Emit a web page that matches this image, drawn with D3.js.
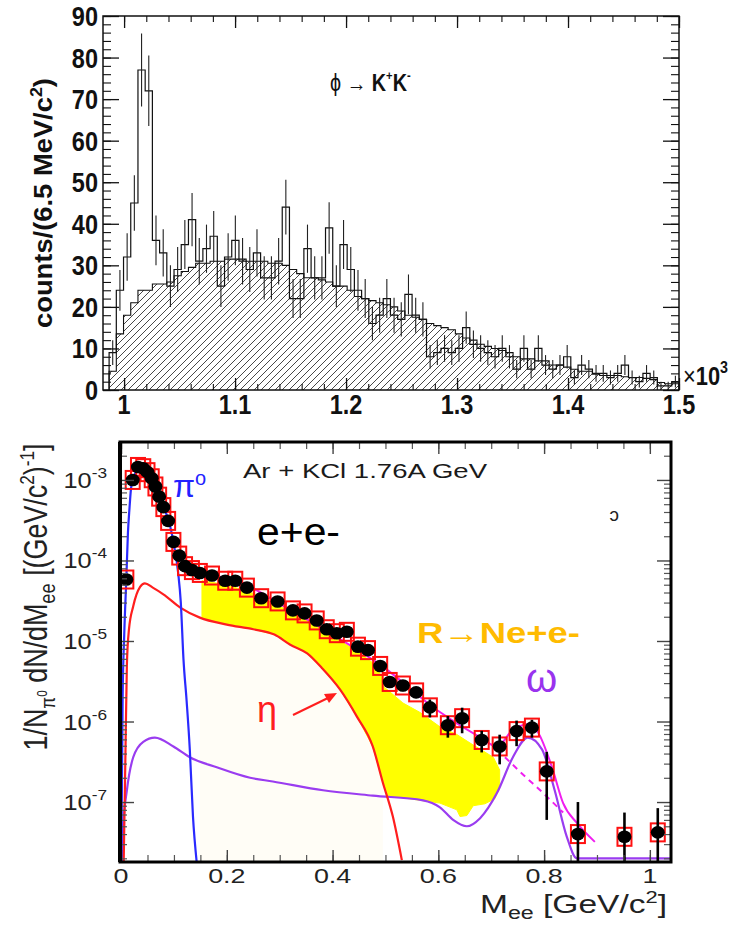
<!DOCTYPE html>
<html><head><meta charset="utf-8">
<script src="https://cdn.jsdelivr.net/npm/d3@7/dist/d3.min.js"></script>
<style>
body{margin:0;background:#fff}
svg{display:block}
text{font-family:"Liberation Sans",Arial,Helvetica,sans-serif}
</style>
</head><body>
<svg id="c" width="729" height="926"></svg>
<script>
// ================= TOP PANEL DATA (phi -> K+K-) =================
const phiBinLow = 0.9865, phiBinWidth = 0.0065;
const phiCounts = [9,24,32,45,77,72,36,33,25,29,35,41,31,34,37,25,32,36,31,29,
  33,27,27,31,44,22,22,34,27,27,39,25,35,29,24,22,16,18,22,18,
  17,23,18,17,8,9,10,9,10,15,11,10,9,8,10,8,5,10,5,10,
  6,5,6,8,3,6,5,4,4,3,4,6,3,2,4,3,1,1,2];
const phiErrors = [3,4.9,5.7,6.7,8.8,8.5,6,5.7,5,5.4,5.9,6.4,5.6,5.8,6.1,5,5.7,6,5.6,5.4,
  5.7,5.2,5.2,5.6,6.6,4.7,4.7,5.8,5.2,5.2,6.2,5,5.9,5.4,4.9,4.7,4,4.2,4.7,4.2,
  4.1,4.8,4.2,4.1,2.8,3,3.2,3,3.2,3.9,3.3,3.2,3,2.8,3.2,2.8,2.2,3.2,2.2,3.2,
  2.4,2.2,2.4,2.8,1.7,2.4,2.2,2,2,1.7,2,2.4,1.7,1.4,2,1.7,1,1,1.4];
const phiBackground = [4.5,13.5,18,21,24,24,25.5,25.5,26,27.5,28.5,29.5,30.5,30.5,31,31,31.5,31.5,31.5,31,
  31,31,30.5,30.5,30,29,28,27,27,26.5,26,25,25,24,22.5,22,21.5,21,20.5,20,
  19,18,17.5,17,16,15.5,15,14.5,13.5,12.5,12,11,10.5,10,9.5,9,8,7.5,7.5,7,
  7,6,6,5.5,5,4.5,4.5,3.8,3.5,3.5,3.5,3.2,3,3,2.8,2.5,1.8,1.5,1.5];
const topXTicks = [1, 1.1, 1.2, 1.3, 1.4, 1.5];
const topXLabels = ["1", "1.1", "1.2", "1.3", "1.4", "1.5"];
const topYTicks = [0, 10, 20, 30, 40, 50, 60, 70, 80, 90];

// ================= BOTTOM PANEL DATA (Ar+KCl e+e-) =================
const meeX = [0.010,0.022,0.032,0.042,0.050,0.058,0.065,0.072,0.080,0.089,0.099,0.110,0.121,0.134,0.149,0.172,0.197,0.216,0.238,0.265,
  0.296,0.325,0.347,0.370,0.389,0.408,0.427,0.448,0.467,0.490,0.508,0.533,0.558,0.584,0.618,0.645,0.682,0.716,0.748,0.777,
  0.805,0.864,0.952,1.015];
const meeY = [5.8e-5,1.0e-3,1.45e-3,1.4e-3,1.25e-3,1.05e-3,8.3e-4,6.2e-4,4.6e-4,3.1e-4,1.7e-4,1.15e-4,8.5e-5,7.6e-5,7.0e-5,6.5e-5,5.6e-5,5.6e-5,4.6e-5,3.4e-5,
  3.1e-5,2.4e-5,2.2e-5,1.8e-5,1.4e-5,1.25e-5,1.3e-5,8.5e-6,7.7e-6,4.9e-6,3.1e-6,2.8e-6,2.3e-6,1.5e-6,9e-7,1.1e-6,5.9e-7,4.9e-7,7.6e-7,8.4e-7,
  2.4e-7,4.0e-8,3.7e-8,4.2e-8];
const meeErrRel = [0.04,0.02,0.02,0.02,0.02,0.02,0.02,0.03,0.03,0.03,0.04,0.04,0.05,0.05,0.05,0.05,0.06,0.06,0.06,0.07,
  0.07,0.08,0.08,0.09,0.1,0.1,0.1,0.12,0.12,0.14,0.15,0.15,0.15,0.25,0.3,0.35,0.3,0.4,0.35,0.25,
  0.75,1.5,1.0,1.0];
const piX = [0.0005,0.003,0.006,0.010,0.013,0.016,0.019,0.025,0.032,0.04,0.05,0.06,0.07,0.08,0.089,0.099,0.108,0.113,0.118,0.124,0.130,0.136,0.143];
const piY = [1.8e-8,2e-6,1.2e-5,6e-5,2.2e-4,4.5e-4,8e-4,1.15e-3,1.3e-3,1.25e-3,1.05e-3,8.3e-4,6.1e-4,4.5e-4,3.3e-4,1.7e-4,7e-5,3e-5,6e-6,1.8e-6,4.5e-7,6.6e-8,1.8e-8];
const etaX = [0.005,0.008,0.011,0.015,0.023,0.036,0.045,0.06,0.08,0.112,0.149,0.2,0.25,0.29,0.32,0.352,0.38,0.414,0.446,0.476,0.495,0.514,0.531];
const etaY = [1.8e-8,3e-7,5e-6,1.4e-5,2.7e-5,4.7e-5,5.2e-5,4.6e-5,3.8e-5,2.6e-5,1.95e-5,1.6e-5,1.4e-5,1.2e-5,9e-6,7e-6,4.6e-6,2.5e-6,1.15e-6,4.9e-7,1.75e-7,6.6e-8,1.9e-8];
const omegaX = [0.001,0.004,0.011,0.023,0.042,0.064,0.099,0.13,0.181,0.244,0.287,0.382,0.476,0.571,0.603,0.628,0.654,0.679,0.711,0.741,0.769,0.796,0.82,0.843,0.862,0.95,1.04];
const omegaY = [1.8e-8,5e-8,1.4e-7,3.6e-7,5.6e-7,6.3e-7,4.9e-7,3.6e-7,2.7e-7,2e-7,1.8e-7,1.4e-7,1.2e-7,1.05e-7,8.6e-8,6e-8,5e-8,6.3e-8,1.3e-7,3.6e-7,6.3e-7,4.5e-7,1.4e-7,3.7e-8,2e-8,2e-8,2e-8];
const totalX = [0.16,0.225,0.3,0.4,0.495,0.6,0.68,0.711,0.741,0.769,0.788,0.815,0.836,0.862,0.896];
const totalY = [6.8e-5,5.4e-5,2.9e-5,1.2e-5,4.8e-6,1.35e-6,6.3e-7,4.9e-7,7.9e-7,9.2e-7,7.4e-7,2.7e-7,9.7e-8,5.5e-8,3.2e-8];
const contX = [0.711,0.76,0.8,0.836];
const contY = [4.5e-7,2.2e-7,1.26e-7,7.4e-8];
const yellowX = [0.153,0.2,0.25,0.3,0.35,0.4,0.45,0.477,0.496,0.497,0.533,0.565,0.603,0.635,0.666,0.68,0.704,0.716,0.716,0.707,0.688,0.666,0.654,0.641,0.635,0.603,0.503,
  0.495,0.476,0.446,0.414,0.38,0.352,0.32,0.29,0.25,0.2,0.153];
const yellowY = [5.6e-5,5.0e-5,3.9e-5,2.7e-5,1.85e-5,1.15e-5,7.2e-6,5.3e-6,3.4e-6,2.7e-6,1.7e-6,1.3e-6,8.6e-7,6.9e-7,5.1e-7,4.5e-7,3.6e-7,2.5e-7,1.5e-7,1.1e-7,9.5e-8,9e-8,6.8e-8,6.6e-8,8e-8,9.7e-8,1.2e-7,
  1.75e-7,4.9e-7,1.15e-6,2.5e-6,4.6e-6,7e-6,9e-6,1.2e-5,1.4e-5,1.6e-5,1.9e-5];
const bottomXTicks = [0, 0.2, 0.4, 0.6, 0.8, 1];
const bottomXLabels = ["0", "0.2", "0.4", "0.6", "0.8", "1"];
const bottomYTicks = [1e-7, 1e-6, 1e-5, 1e-4, 1e-3];
const bottomYExp = ["-7", "-6", "-5", "-4", "-3"];

// ================= DRAWING =================
const svg = d3.select("#c");
const defs = svg.append("defs");
const pat = defs.append("pattern").attr("id", "hatch").attr("patternUnits", "userSpaceOnUse")
  .attr("width", 7).attr("height", 7);
pat.append("path").attr("d", "M-1,1 l2,-2 M0,7 l7,-7 M6,8 l2,-2")
  .attr("stroke", "#333").attr("stroke-width", 0.9);

// ---------- top panel ----------
const TL = 103, TR = 679, TT = 16, TB = 390;
const xT = d3.scaleLinear().domain([0.981, 1.5]).range([TL, TR]);
const yT = d3.scaleLinear().domain([0, 90]).range([TB, TT]);
const gT = svg.append("g");

function steps(vals, closeEnds) {
  const p = [];
  if (closeEnds) p.push([phiBinLow, 0]);
  vals.forEach((v, i) => {
    const a = phiBinLow + i * phiBinWidth;
    p.push([a, v], [a + phiBinWidth, v]);
  });
  if (closeEnds) p.push([phiBinLow + vals.length * phiBinWidth, 0]);
  return p;
}
gT.append("path").datum(steps(phiBackground, false))
  .attr("d", d3.area().x(d => xT(d[0])).y0(yT(0)).y1(d => yT(d[1])))
  .attr("fill", "url(#hatch)");
gT.append("path").datum(steps(phiBackground, true))
  .attr("d", d3.line().x(d => xT(d[0])).y(d => yT(d[1])))
  .attr("fill", "none").attr("stroke", "#111").attr("stroke-width", 1.1);
gT.append("path").datum(steps(phiCounts, true))
  .attr("d", d3.line().x(d => xT(d[0])).y(d => yT(d[1])))
  .attr("fill", "none").attr("stroke", "#111").attr("stroke-width", 1.2);
gT.selectAll("line.err").data(phiCounts).join("line").attr("class", "err")
  .attr("x1", (d, i) => xT(phiBinLow + (i + 0.5) * phiBinWidth))
  .attr("x2", (d, i) => xT(phiBinLow + (i + 0.5) * phiBinWidth))
  .attr("y1", (d, i) => yT(Math.max(0, d - phiErrors[i])))
  .attr("y2", (d, i) => yT(d + phiErrors[i]))
  .attr("stroke", "#222").attr("stroke-width", 1.1);

function styleAxis(g, color, w) {
  g.select(".domain").remove();
  g.selectAll(".tick line").attr("stroke", color).attr("stroke-width", w);
  g.selectAll(".tick text").remove();
}
const topMinorX = d3.range(50).map(i => 0.98 + i * 0.02).filter(v => v >= 0.981 && v <= 1.5001);
const topMinorY = d3.range(46).map(i => i * 2);
[[d3.axisLeft(yT), TL, 0, topYTicks, topMinorY, 16, 8],
 [d3.axisRight(yT), TR, 0, topYTicks, topMinorY, 16, 8],
 [d3.axisBottom(xT), 0, TB, topXTicks, topMinorX, 12, 6],
 [d3.axisTop(xT), 0, TT, topXTicks, topMinorX, 12, 6]].forEach(([ax, tx, ty, maj, mn, lM, lm]) => {
  gT.append("g").attr("transform", `translate(${tx},${ty})`)
    .call(ax.tickValues(mn).tickSizeInner(-lm).tickSizeOuter(0)).call(g => styleAxis(g, "#111", 1.1));
  gT.append("g").attr("transform", `translate(${tx},${ty})`)
    .call(ax.tickValues(maj).tickSizeInner(-lM).tickSizeOuter(0)).call(g => styleAxis(g, "#111", 1.3));
});
gT.append("rect").attr("x", TL).attr("y", TT).attr("width", TR - TL).attr("height", TB - TT)
  .attr("fill", "none").attr("stroke", "#111").attr("stroke-width", 1.5);

topYTicks.forEach(v => {
  gT.append("text").attr("transform", `translate(98,${yT(v) + 10}) scale(0.84,1)`)
    .attr("text-anchor", "end").attr("font-weight", "bold").attr("font-size", 28).attr("fill", "#111").text(v);
});
topXTicks.forEach((v, i) => {
  gT.append("text").attr("transform", `translate(${xT(v)},414) scale(0.84,1)`)
    .attr("text-anchor", "middle").attr("font-weight", "bold").attr("font-size", 28).attr("fill", "#111").text(topXLabels[i]);
});
const x103 = gT.append("text").attr("transform", "translate(683,385) scale(0.84,1)")
  .attr("font-weight", "bold").attr("font-size", 26).attr("fill", "#111");
x103.append("tspan").attr("font-weight", "normal").text("×");
x103.append("tspan").text("10");
x103.append("tspan").attr("font-size", 17).attr("dy", -12).text("3");

const ty = gT.append("text").attr("transform", "translate(52,203) rotate(-90)")
  .attr("text-anchor", "middle").attr("font-weight", "bold").attr("font-size", 26).attr("fill", "#111")
  .attr("textLength", 250).attr("lengthAdjust", "spacingAndGlyphs");
ty.append("tspan").text("counts/(6.5 MeV/c");
ty.append("tspan").attr("font-size", 17).attr("dy", -10).text("2");
ty.append("tspan").attr("dy", 10).text(")");

const tt = gT.append("text").attr("transform", "translate(330,91) scale(0.86,1)")
  .attr("font-size", 23).attr("fill", "#111");
tt.append("tspan").text("ϕ → ");
tt.append("tspan").attr("font-weight", "bold").text("K");
tt.append("tspan").attr("font-weight", "bold").attr("font-size", 13).attr("dy", -11).text("+");
tt.append("tspan").attr("font-weight", "bold").attr("dy", 11).text("K");
tt.append("tspan").attr("font-weight", "bold").attr("font-size", 13).attr("dy", -11).text("-");

// ---------- bottom panel ----------
const BL = 120, BR = 671, BT = 442, BB = 862;
const xB = d3.scaleLinear().domain([-0.002, 1.04]).range([BL, BR]);
const yB = d3.scaleLog().domain([1.8e-8, 2.96e-3]).range([BB, BT]);
const gB = svg.append("g");
defs.append("clipPath").attr("id", "clipB").append("rect")
  .attr("x", BL).attr("y", BT).attr("width", BR - BL).attr("height", BB - BT);
const plot = gB.append("g").attr("clip-path", "url(#clipB)");
const lineB = d3.line().x(d => xB(d[0])).y(d => yB(d[1])).curve(d3.curveMonotoneX);
const zip = (a, b) => a.map((v, i) => [v, b[i]]);

const etaSeg = zip(etaX, etaY).filter(d => d[0] >= 0.149 && d[0] <= 0.5);
plot.append("path").datum(etaSeg)
  .attr("d", d3.area().x(d => xB(d[0])).y0(BB).y1(d => yB(d[1])).curve(d3.curveMonotoneX))
  .attr("fill", "#fffdf6");
plot.append("path").datum(zip(yellowX, yellowY))
  .attr("d", d3.line().x(d => xB(d[0])).y(d => yB(d[1])).curve(d3.curveLinearClosed))
  .attr("fill", "#ffff00").attr("stroke", "#ffff00").attr("stroke-width", 1);

plot.append("path").datum(zip(omegaX, omegaY)).attr("d", lineB)
  .attr("fill", "none").attr("stroke", "#9a3cf0").attr("stroke-width", 2.2);
plot.append("path").datum(zip(etaX, etaY)).attr("d", lineB)
  .attr("fill", "none").attr("stroke", "#ff1e1e").attr("stroke-width", 2.2);
plot.append("path").datum(zip(piX, piY)).attr("d", lineB)
  .attr("fill", "none").attr("stroke", "#2a2aff").attr("stroke-width", 2.2);
plot.append("path").datum(zip(totalX, totalY)).attr("d", lineB)
  .attr("fill", "none").attr("stroke", "#f01ef0").attr("stroke-width", 2);
plot.append("path").datum(zip(contX, contY)).attr("d", lineB)
  .attr("fill", "none").attr("stroke", "#f01ef0").attr("stroke-width", 2).attr("stroke-dasharray", "6,5");

const pts = meeX.map((x, i) => ({x, y: meeY[i], r: meeErrRel[i]}));
plot.selectAll("rect.sys").data(pts).join("rect").attr("class", "sys")
  .attr("x", d => xB(d.x) - 7).attr("y", d => yB(d.y) - 9).attr("width", 14).attr("height", 18)
  .attr("fill", "none").attr("stroke", "#ff1010").attr("stroke-width", 2);
plot.selectAll("line.stat").data(pts).join("line").attr("class", "stat")
  .attr("x1", d => xB(d.x)).attr("x2", d => xB(d.x))
  .attr("y1", d => yB(d.y * (1 + d.r)))
  .attr("y2", d => d.r >= 1 ? BB + 5 : yB(d.y * (1 - d.r)))
  .attr("stroke", "#000").attr("stroke-width", 2.6);
plot.selectAll("ellipse.pt").data(pts).join("ellipse").attr("class", "pt")
  .attr("cx", d => xB(d.x)).attr("cy", d => yB(d.y)).attr("rx", 7).attr("ry", 6.3)
  .attr("fill", "#000");

const minorLogTicks = yB.ticks().filter(v => bottomYTicks.indexOf(v) < 0);
const bMinorX = d3.range(21).map(i => i * 0.05);
[[d3.axisLeft(yB), BL, 0, bottomYTicks, minorLogTicks, 14, 7],
 [d3.axisRight(yB), BR, 0, bottomYTicks, minorLogTicks, 14, 7],
 [d3.axisBottom(xB), 0, BB, bottomXTicks, bMinorX, 12, 7],
 [d3.axisTop(xB), 0, BT, bottomXTicks, bMinorX, 12, 7]].forEach(([ax, tx, ty2, maj, mn, lM, lm]) => {
  gB.append("g").attr("transform", `translate(${tx},${ty2})`)
    .call(ax.tickValues(mn).tickSizeInner(-lm).tickSizeOuter(0)).call(g => styleAxis(g, "#555", 1.2));
  gB.append("g").attr("transform", `translate(${tx},${ty2})`)
    .call(ax.tickValues(maj).tickSizeInner(-lM).tickSizeOuter(0)).call(g => styleAxis(g, "#444", 1.4));
});
gB.append("rect").attr("x", BL).attr("y", BT).attr("width", BR - BL).attr("height", BB - BT)
  .attr("fill", "none").attr("stroke", "#000").attr("stroke-width", 3);
gB.append("line").attr("x1", BL).attr("x2", BL).attr("y1", BT).attr("y2", BB)
  .attr("stroke", "#000").attr("stroke-width", 4);

bottomXTicks.forEach((v, i) => {
  gB.append("text").attr("transform", `translate(${xB(v)},883) scale(1.28,1)`)
    .attr("text-anchor", "middle").attr("font-size", 21).attr("fill", "#222").text(bottomXLabels[i]);
});
bottomYTicks.forEach((v, i) => {
  const t = gB.append("text").attr("transform", `translate(107,${yB(v) + 8}) scale(1.15,1)`)
    .attr("text-anchor", "end").attr("font-size", 22).attr("fill", "#222");
  t.append("tspan").text("10");
  t.append("tspan").attr("font-size", 15).attr("dy", -10).text(bottomYExp[i]);
});

const xt = gB.append("text").attr("x", 480).attr("y", 913).attr("font-size", 26).attr("fill", "#222")
  .attr("textLength", 187).attr("lengthAdjust", "spacingAndGlyphs");
xt.append("tspan").text("M");
xt.append("tspan").attr("font-size", 18).attr("dy", 6).text("ee");
xt.append("tspan").attr("dy", -6).text(" [GeV/c");
xt.append("tspan").attr("font-size", 17).attr("dy", -10).text("2");
xt.append("tspan").attr("dy", 10).text("]");

const yt = gB.append("text").attr("transform", "translate(47,597) rotate(-90) scale(1,1.3)")
  .attr("text-anchor", "middle").attr("font-size", 25).attr("fill", "#222")
  .attr("textLength", 307).attr("lengthAdjust", "spacingAndGlyphs");
yt.append("tspan").text("1/N");
yt.append("tspan").attr("font-size", 16).attr("dy", 6).text("π");
yt.append("tspan").attr("font-size", 11).attr("dy", -6).text("0");
yt.append("tspan").attr("dy", 0).text(" dN/dM");
yt.append("tspan").attr("font-size", 17).attr("dy", 6).text("ee");
yt.append("tspan").attr("dy", -6).text("  [(GeV/c");
yt.append("tspan").attr("font-size", 16).attr("dy", -10).text("2");
yt.append("tspan").attr("dy", 10).text(")");
yt.append("tspan").attr("font-size", 16).attr("dy", -10).text("-1");
yt.append("tspan").attr("dy", 10).text("]");

gB.append("text").attr("x", 243).attr("y", 478).attr("font-size", 20).attr("fill", "#1a1a1a")
  .attr("textLength", 244).attr("lengthAdjust", "spacingAndGlyphs").text("Ar + KCl  1.76A GeV");
gB.append("text").attr("x", 257).attr("y", 545).attr("font-size", 38).attr("fill", "#000")
  .attr("textLength", 83).attr("lengthAdjust", "spacingAndGlyphs").text("e+e-");
gB.append("text").attr("x", 417).attr("y", 643).attr("font-size", 30).attr("font-weight", "bold")
  .attr("fill", "#ffbb00").attr("textLength", 163).attr("lengthAdjust", "spacingAndGlyphs").text("R→Ne+e-");
gB.append("text").attr("x", 526).attr("y", 692).attr("font-size", 40)
  .attr("font-family", "'Liberation Serif','DejaVu Serif',serif").attr("fill", "#9933ee").text("ω");
const pl = gB.append("text").attr("x", 173).attr("y", 497).attr("font-size", 32)
  .attr("font-family", "'Liberation Serif','DejaVu Serif',serif").attr("fill", "#2222ff");
pl.append("tspan").text("π");
pl.append("tspan").attr("font-size", 20).attr("dy", -12).attr("font-family", "'Liberation Sans',Arial,sans-serif").text("o");
gB.append("text").attr("x", 257).attr("y", 722).attr("font-size", 36)
  .attr("font-family", "'Liberation Serif','DejaVu Serif',serif").attr("fill", "#ff1e1e").text("η");
gB.append("line").attr("x1", 293).attr("y1", 715).attr("x2", 330).attr("y2", 697)
  .attr("stroke", "#ff1e1e").attr("stroke-width", 2);
gB.append("path").attr("d", "M337,693 L324,694 L329,703 Z").attr("fill", "#ff1e1e");
gB.append("text").attr("transform", "translate(619,521) scale(-1,1)").attr("font-size", 19)
  .attr("fill", "#222").text("c");
</script>
</body></html>
